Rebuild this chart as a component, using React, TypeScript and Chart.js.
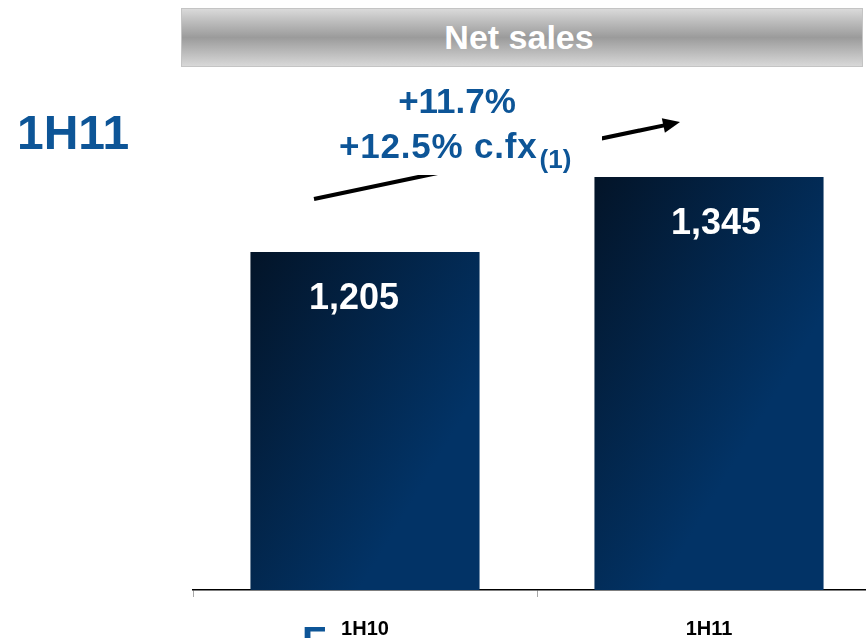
import React, { useEffect, useRef } from "react";
import { Chart, registerables } from "chart.js";

Chart.register(...registerables);

const categories: string[] = ["1H10", "1H11"];
const netSales: number[] = [1205, 1345];
const valueLabels: string[] = ["1,205", "1,345"];
const title = "Net sales";
const periodLabel = "1H11";
const growthLine1 = "+11.7%";
const growthLine2 = "+12.5% c.fx";
const growthNote = "(1)";

const FONT = "'Liberation Sans', Arial, Helvetica, sans-serif";
const BLUE = "#0d5597";
const LABEL_DX = [-11, 7];

const valueLabelPlugin = {
  id: "valueLabels",
  afterDatasetsDraw(chart: any) {
    const { ctx } = chart;
    const meta = chart.getDatasetMeta(0);
    ctx.save();
    ctx.fillStyle = "#ffffff";
    ctx.font = `bold 36px ${FONT}`;
    ctx.textAlign = "center";
    ctx.textBaseline = "alphabetic";
    meta.data.forEach((el: any, i: number) => {
      ctx.fillText(valueLabels[i], el.x + (LABEL_DX[i] || 0), el.y + 57);
    });
    ctx.restore();
  },
};

function BarChart() {
  const ref = useRef<HTMLCanvasElement | null>(null);
  useEffect(() => {
    if (!ref.current) return;
    const chart = new Chart(ref.current, {
      type: "bar",
      data: {
        labels: categories,
        datasets: [
          {
            data: netSales,
            borderWidth: 0,
            categoryPercentage: 1,
            barPercentage: 0.666,
            backgroundColor: (c: any) => {
              const ch = c.chart;
              const xs = ch.scales?.x;
              const ys = ch.scales?.y;
              if (!ch.chartArea || !xs || !ys || c.raw == null) return "#042750";
              const cx = xs.getPixelForValue(c.dataIndex);
              const half = ((xs.width / categories.length) * 0.666) / 2;
              const top = ys.getPixelForValue(c.raw);
              const w = half * 2;
              const g = ch.ctx.createLinearGradient(cx - half, top, cx + half, top + w * 0.6);
              g.addColorStop(0, "#031428");
              g.addColorStop(1, "#023366");
              return g;
            },
          },
        ],
      },
      options: {
        responsive: false,
        animation: false,
        layout: { padding: { left: 193, right: 19, top: 100, bottom: 0 } },
        plugins: { legend: { display: false }, tooltip: { enabled: false } },
        scales: {
          y: { display: false, min: 574, max: 1489 },
          x: {
            afterFit: (axis: any) => {
              axis.height = 48;
            },
            grid: {
              offset: true,
              drawOnChartArea: false,
              drawTicks: true,
              tickLength: 7,
              color: "#a8a8a8",
            },
            border: { display: true, color: "#000000", width: 1.5 },
            ticks: {
              autoSkip: false,
              maxRotation: 0,
              padding: 20,
              color: "#000000",
              font: { family: FONT, size: 20, weight: "bold" },
            },
          },
        },
      },
      plugins: [valueLabelPlugin],
    } as any);
    return () => chart.destroy();
  }, []);
  return (
    <canvas
      ref={ref}
      width={900}
      height={638}
      style={{ position: "absolute", left: 0, top: 0, width: 900, height: 638 }}
    />
  );
}

// arrow annotation geometry
const ARROW_START = [314, 199];
const ARROW_END = [680, 122];

function Arrow() {
  const [x1, y1] = ARROW_START;
  const [x2, y2] = ARROW_END;
  const dx = x2 - x1;
  const dy = y2 - y1;
  const len = Math.hypot(dx, dy);
  const ux = dx / len;
  const uy = dy / len;
  const nx = -uy;
  const ny = ux;
  const hl = 17;
  const hw = 7.5;
  const bx = x2 - ux * hl;
  const by = y2 - uy * hl;
  const pts = `${x2},${y2} ${bx + nx * hw},${by + ny * hw} ${bx - nx * hw},${by - ny * hw}`;
  return (
    <svg
      width={866}
      height={638}
      style={{ position: "absolute", left: 0, top: 0, pointerEvents: "none" }}
    >
      <line x1={x1} y1={y1} x2={bx + ux * 2} y2={by + uy * 2} stroke="#000" strokeWidth={4} />
      <polygon points={pts} fill="#000" />
    </svg>
  );
}

export default function App() {
  return (
    <div
      style={{
        position: "fixed",
        left: 0,
        top: 0,
        width: 866,
        height: 638,
        overflow: "hidden",
        background: "#ffffff",
        fontFamily: FONT,
      }}
    >
      <BarChart />
      <Arrow />
      {/* white box behind the growth text (cuts the arrow) */}
      <div
        style={{
          position: "absolute",
          left: 330,
          top: 78,
          width: 272,
          height: 97,
          background: "#ffffff",
        }}
      />
      {/* title bar */}
      <div
        style={{
          position: "absolute",
          left: 181,
          top: 8,
          width: 680,
          height: 57,
          border: "1px solid #c4c4c4",
          background:
            "linear-gradient(to bottom, #dadada 0%, #bdbdbd 22%, #9b9b9b 50%, #bdbdbd 78%, #d8d8d8 100%)",
          color: "#ffffff",
          fontWeight: "bold",
          fontSize: 34,
          lineHeight: "57px",
          textAlign: "center",
        }}
      >
        <span style={{ position: "relative", left: -3 }}>{title}</span>
      </div>
      {/* period label */}
      <div
        style={{
          position: "absolute",
          left: 17,
          top: 109,
          fontSize: 48,
          lineHeight: "48px",
          fontWeight: "bold",
          color: BLUE,
          whiteSpace: "nowrap",
        }}
      >
        {periodLabel}
      </div>
      {/* growth annotation */}
      <div
        style={{
          position: "absolute",
          left: 357,
          top: 83,
          width: 200,
          textAlign: "center",
          fontSize: 35,
          lineHeight: "35px",
          fontWeight: "bold",
          color: BLUE,
          whiteSpace: "nowrap",
        }}
      >
        {growthLine1}
      </div>
      <div
        style={{
          position: "absolute",
          left: 339,
          top: 128,
          fontSize: 35,
          lineHeight: "35px",
          fontWeight: "bold",
          color: BLUE,
          whiteSpace: "nowrap",
          letterSpacing: 0.8,
        }}
      >
        {growthLine2}
        <span style={{ fontSize: 26, position: "relative", top: 10, marginLeft: 2, letterSpacing: 0 }}>
          {growthNote}
        </span>
      </div>
      {/* partial glyph at bottom edge */}
      <div
        style={{
          position: "absolute",
          left: 302,
          top: 621,
          fontSize: 40,
          lineHeight: "40px",
          fontWeight: "bold",
          color: BLUE,
        }}
      >
        F
      </div>
    </div>
  );
}
